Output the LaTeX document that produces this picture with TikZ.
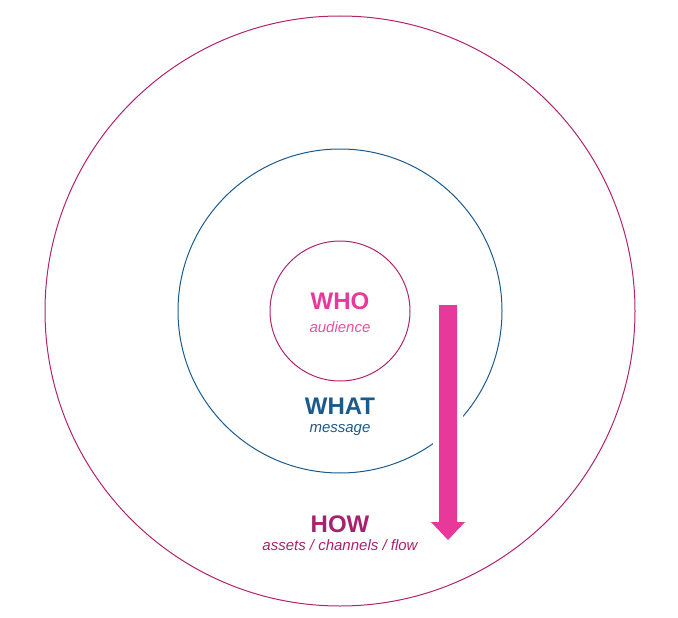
\documentclass[tikz,border=0pt]{standalone}
\usepackage{fontspec}
\setmainfont{Liberation Sans}
\usetikzlibrary{positioning}

\definecolor{howmagenta}{HTML}{B0246F}
\definecolor{whatblue}{HTML}{1A5A8C}
\definecolor{whopink}{HTML}{E8399A}
\definecolor{whopinklight}{HTML}{E5559F}
\definecolor{howtext}{HTML}{A8216F}

\begin{document}
\begin{tikzpicture}[x=1pt, y=-1pt,
    ring/.style={circle, draw, line width=1pt, inner sep=0pt},
    title/.style={anchor=base, inner sep=0pt, font=\bfseries\fontsize{24}{24}\selectfont},
    subtitle/.style={anchor=base, inner sep=0pt, font=\itshape\fontsize{15}{15}\selectfont},
    flowarrow/.style={fill=whopink, preaction={draw=white, line width=12pt, line join=round}}
]
\useasboundingbox (0,0) rectangle (678,618);

% Cerchi
\node[ring, draw=howmagenta, minimum size=590pt] (howring) at (340,311) {};
\node[ring, draw=whatblue, minimum size=324pt] (whatring) at (340,311) {};
\node[ring, draw=howmagenta, minimum size=140pt] (whoring) at (340,311) {};

% Freccia
\fill[flowarrow] (439,305) -- (457,305) -- (457,522) -- (465,522)
    -- (448,540) -- (431,522) -- (439,522) -- cycle;

% Etichette
\node[title, text=whopink] (who) at (340,309) {WHO};
\node[subtitle, text=whopinklight] (audience) at (340,332) {audience};

\node[title, text=whatblue] (what) at (340,414) {WHAT};
\node[subtitle, text=whatblue] (message) at (340,432) {message};

\node[title, text=howtext] (how) at (340,532) {HOW};
\node[subtitle, text=howtext] (assets) at (340,550) {assets / channels / flow};
\end{tikzpicture}
\end{document}
